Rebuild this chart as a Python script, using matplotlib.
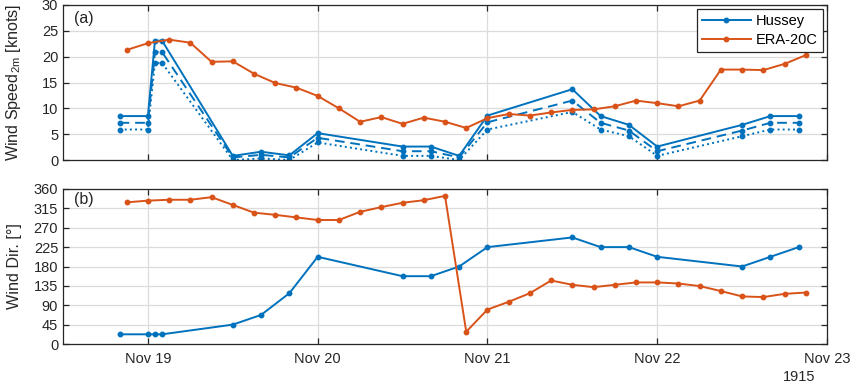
import numpy as np
import matplotlib
matplotlib.use("Agg")
import matplotlib.pyplot as plt

plt.rcParams['font.family'] = ['Liberation Sans', 'DejaVu Sans']

# ---------------- data ----------------
hussey_times = ["1915-11-18T20:00", "1915-11-19T00:00", "1915-11-19T01:00", "1915-11-19T02:00",
                "1915-11-19T12:00", "1915-11-19T16:00", "1915-11-19T20:00", "1915-11-20T00:00",
                "1915-11-20T12:00", "1915-11-20T16:00", "1915-11-20T20:00", "1915-11-21T00:00",
                "1915-11-21T12:00", "1915-11-21T16:00", "1915-11-21T20:00", "1915-11-22T00:00",
                "1915-11-22T12:00", "1915-11-22T16:00", "1915-11-22T20:00"]
hussey_speed_hi = [8.5, 8.5, 23.1, 23.1, 0.8, 1.6, 0.9, 5.2, 2.6, 2.6, 0.8, 8.6,
                   13.7, 8.5, 6.8, 2.6, 6.8, 8.5, 8.5]
hussey_speed_mid = [7.2, 7.2, 20.9, 20.9, 0.5, 1.0, 0.5, 4.3, 1.7, 1.7, 0.5, 7.3,
                    11.5, 7.2, 5.7, 1.7, 5.7, 7.2, 7.2]
hussey_speed_lo = [5.9, 5.9, 18.8, 18.8, 0.0, 0.3, 0.0, 3.4, 0.8, 0.8, 0.0, 5.9,
                   9.3, 5.9, 4.6, 0.8, 4.6, 5.9, 5.9]
hussey_dir = [22.5, 22.5, 22.5, 22.5, 45, 67.5, 118, 202.5, 157.5, 157.5, 180, 225,
              247.5, 225, 225, 202.5, 180, 202.5, 225]

era_start = "1915-11-18T21:00"
era_step_hours = 3
era_speed = [21.3, 22.6, 23.3, 22.7, 19.0, 19.1, 16.7, 14.9, 14.0, 12.4, 10.0, 7.4, 8.3,
             7.0, 8.2, 7.4, 6.2, 8.1, 8.9, 8.6, 9.2, 9.7, 9.8, 10.4, 11.5, 11.0, 10.4,
             11.5, 17.5, 17.5, 17.4, 18.6, 20.3]
era_dir = [329, 333, 335, 335, 341, 323, 305, 300, 294, 288, 288, 307, 318, 328, 334,
           344, 28.5, 80, 98, 118, 147.5, 137.5, 132, 137.5, 143, 143, 140.5, 134.5,
           123, 110.5, 109, 116.5, 119.5]

speed_ticks = [0, 5, 10, 15, 20, 25, 30]
dir_ticks = [0, 45, 90, 135, 180, 225, 270, 315, 360]
day_ticks = ["1915-11-19", "1915-11-20", "1915-11-21", "1915-11-22", "1915-11-23"]
day_labels = ["Nov 19", "Nov 20", "Nov 21", "Nov 22", "Nov 23"]

# --------------- build ---------------
def to_dt(a):
    return np.array(a, dtype="datetime64[ms]").astype(object)

ht = to_dt(hussey_times)
et = (np.datetime64(era_start, "ms")
      + np.arange(len(era_speed)) * np.timedelta64(era_step_hours, "h")).astype(object)
dticks = to_dt(day_ticks)
xmin = np.datetime64("1915-11-18T12:00", "ms").astype(object)
xmax = np.datetime64("1915-11-23T00:00", "ms").astype(object)

BLUE = "#0072BD"
ORANGE = "#D95319"
AX = "#262626"
GRID = "#dcdcdc"
FS = 10.5

fig = plt.figure(figsize=(8.5, 3.83), dpi=100)
ax1 = fig.add_axes([63/850, 1-160/383, (827-63)/850, 155/383])
ax2 = fig.add_axes([63/850, 1-344/383, (827-63)/850, 155/383])

lw = 1.4
ms = 3.2
ax1.plot(ht, hussey_speed_hi, '-', color=BLUE, lw=lw, marker='o', ms=ms, label='Hussey')
ax1.plot(ht, hussey_speed_mid, '--', color=BLUE, lw=lw, marker='o', ms=ms, dashes=(5, 3))
ax1.plot(ht, hussey_speed_lo, ':', color=BLUE, lw=lw, marker='o', ms=ms)
ax1.plot(et, era_speed, '-', color=ORANGE, lw=lw, marker='o', ms=ms, label='ERA-20C')

ax2.plot(ht, hussey_dir, '-', color=BLUE, lw=lw, marker='o', ms=ms)
ax2.plot(et, era_dir, '-', color=ORANGE, lw=lw, marker='o', ms=ms)

for ax in (ax1, ax2):
    ax.set_xlim(xmin, xmax)
    ax.set_xticks(dticks)
    ax.grid(True, color=GRID, lw=0.9)
    ax.set_axisbelow(True)
    ax.tick_params(direction='in', top=True, right=True, length=4, width=0.9,
                   colors=AX, labelsize=FS, labelcolor=AX)
    for s in ax.spines.values():
        s.set_color(AX)
        s.set_linewidth(0.9)

ax1.set_ylim(0, 30)
ax1.set_yticks(speed_ticks)
ax1.set_xticklabels([])
ax2.set_ylim(0, 360)
ax2.set_yticks(dir_ticks)
ax2.set_xticklabels(day_labels)
ax2.tick_params(axis='x', pad=6)

ax1.set_ylabel(r"Wind Speed$_{\mathregular{2m}}$ [knots]", fontsize=11.6, color=AX)
ax2.set_ylabel("Wind Dir. [°]", fontsize=11.6, color=AX)
ax1.yaxis.set_label_coords(-0.053, 0.5)
ax2.yaxis.set_label_coords(-0.054, 0.5)

ax1.text(0.014, 0.96, "(a)", transform=ax1.transAxes, fontsize=11.5, color=AX, va='top')
ax2.text(0.014, 0.98, "(b)", transform=ax2.transAxes, fontsize=11.5, color=AX, va='top')

fig.text(815/850, 1-377/383, "1915", fontsize=FS, color=AX, ha='right', va='center')

leg = ax1.legend(loc='upper right', fontsize=FS, frameon=True, fancybox=False,
                 edgecolor=AX, framealpha=1, handlelength=3.3, borderpad=0.35,
                 labelspacing=0.3, handletextpad=0.35, borderaxespad=0.3)
leg.get_frame().set_linewidth(0.9)

fig.savefig("out.png", dpi=100)
